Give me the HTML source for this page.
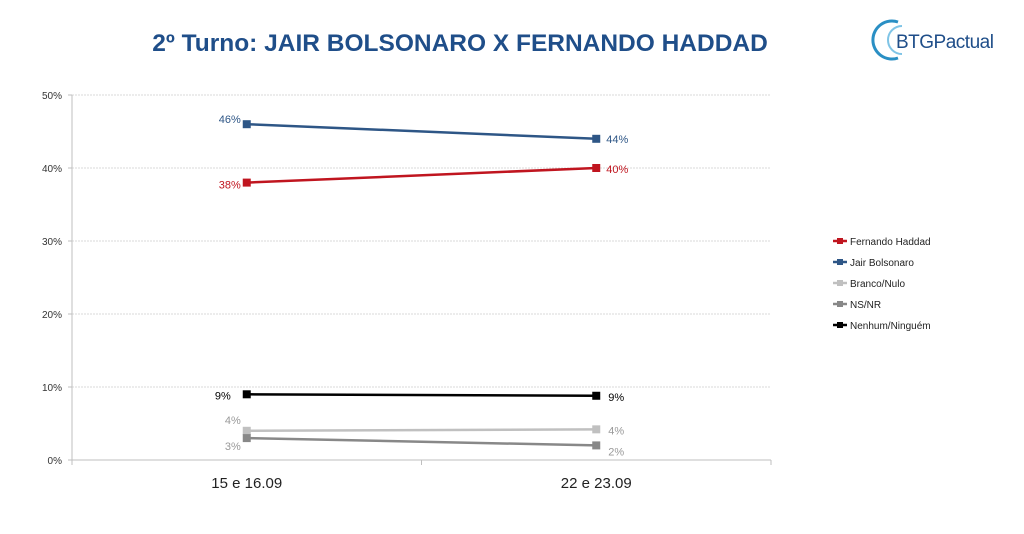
<!DOCTYPE html>
<html><head><meta charset="utf-8"><style>
body{margin:0;background:#fff;width:1024px;height:529px;overflow:hidden;font-family:"Liberation Sans",sans-serif}
</style></head><body>
<svg id="c" width="1024" height="529">
<text x="460" y="51" text-anchor="middle" font-size="24.5" font-weight="bold" fill="#1f4e89">2º Turno: JAIR BOLSONARO X FERNANDO HADDAD</text>
<g>
<path d="M898 22 A19 19 0 1 0 898 58" fill="none" stroke="#2a8fc4" stroke-width="3"/>
<path d="M902 26 A14 14 0 1 0 902 54" fill="none" stroke="#7fc4e6" stroke-width="2"/>
<text x="896" y="48" font-size="19" fill="#1f4e89" letter-spacing="-0.5">BTGPactual</text>
</g>
<g id="grid"></g><g id="marks"></g><g id="legend"></g>
</svg>
<script>
const categories=["15 e 16.09","22 e 23.09"];
const yTicks=[0,10,20,30,40,50];
const haddad=[38,40];
const bolsonaro=[46,44];
const branco=[4,4.2];
const nsnr=[3,2];
const nenhum=[9,8.8];
const seriesNames=["Fernando Haddad","Jair Bolsonaro","Branco/Nulo","NS/NR","Nenhum/Ninguém"];
const labelsA=["38%","46%","4%","3%","9%"];
const labelsB=["40%","44%","4%","2%","9%"];
const NS="http://www.w3.org/2000/svg";
const x0=72,x1=771,y0=460,yTop=95;
const y=v=>y0-(v/50)*(y0-yTop);
const x=i=>x0+(i+0.5)*(x1-x0)/categories.length;
function el(t,a,p){const e=document.createElementNS(NS,t);for(const k in a)e.setAttribute(k,a[k]);p.appendChild(e);return e;}
const g=document.getElementById('grid'),m=document.getElementById('marks'),lg=document.getElementById('legend');
yTicks.forEach(v=>{
 const l=el('line',{x1:x0,x2:x1,y1:y(v),y2:y(v),stroke:v?'#d9d9d9':'#bfbfbf','stroke-dasharray':v?'2,1':''},g);
 
 
 const t=el('text',{x:62,y:y(v)+4,'text-anchor':'end','font-size':10,fill:'#333'},g);
 t.textContent=v+'%';
 
 
 el('line',{x1:x0-4,x2:x0,y1:y(v),y2:y(v),stroke:'#bfbfbf'},g);
});
el('line',{x1:x0,x2:x0,y1:yTop,y2:y0+4,stroke:'#bfbfbf'},g);
[x0,(x0+x1)/2,x1].forEach(xx=>el('line',{x1:xx,x2:xx,y1:y0,y2:y0+5,stroke:'#bfbfbf'},g));
categories.forEach((c,i)=>{
 const t=el('text',{x:x(i),y:488,'text-anchor':'middle','font-size':15,fill:'#222'},g);
 t.textContent=c;
 
 
});
const data=[haddad,bolsonaro,branco,nsnr,nenhum];
const colors=['#c0151f','#2e5686','#c0c0c0','#888888','#000000'];
const lblColors=['#c0151f','#2e5686','#999','#999','#000'];
const offA=[[-6,6],[-6,-1],[-6,-7],[-6,12],[-16,5]],offB=[[10,5],[10,4],[12,5],[12,10],[12,5]];
data.forEach((s,k)=>{
 const ln=el('polyline',{points:s.map((v,i)=>x(i)+','+y(v)).join(' '),fill:'none',stroke:colors[k],'stroke-width':2.5},m);
 
 
 s.forEach((v,i)=>{
  const r=el('rect',{x:x(i)-4,y:y(v)-4,width:8,height:8,fill:colors[k]},m);
  
  
  const o=i?offB[k]:offA[k];
  const t=el('text',{x:x(i)+o[0],y:y(v)+o[1],'text-anchor':i?'start':'end','font-size':11,fill:lblColors[k]},m);
  t.textContent=i?labelsB[k]:labelsA[k];
  
  
 });
});
seriesNames.forEach((n,k)=>{
 const yy=241+k*21;
 el('line',{x1:833,x2:847,y1:yy,y2:yy,stroke:colors[k],'stroke-width':2.5},lg);
 el('rect',{x:837,y:yy-3,width:6,height:6,fill:colors[k]},lg);
 const t=el('text',{x:850,y:yy+4,'font-size':10,fill:'#222'},lg);
 t.textContent=n;
 
 
});
</script>
</body></html>
